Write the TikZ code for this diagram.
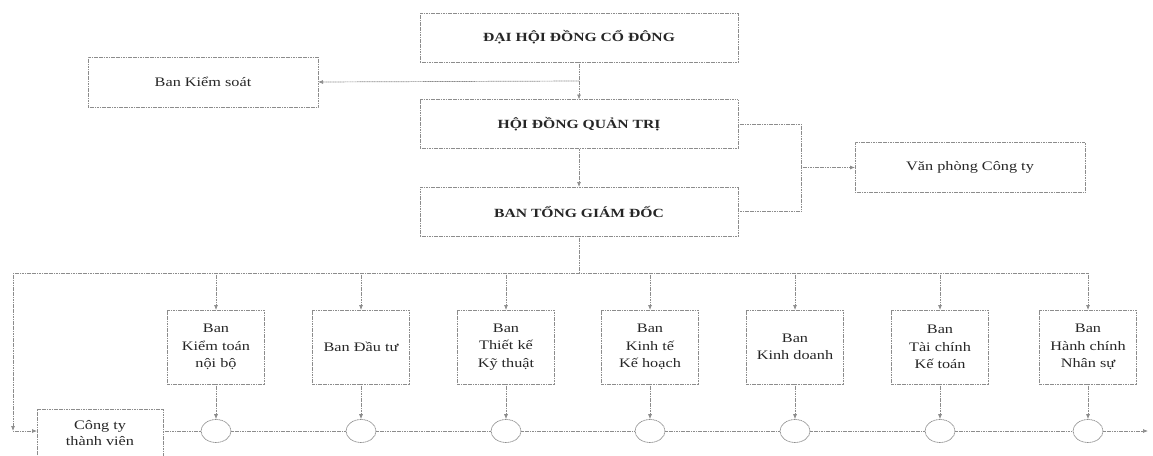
\documentclass[tikz,border=0pt]{standalone}
\usepackage{fontspec}
\setmainfont[FakeStretch=1.25]{Liberation Serif}
\usepackage{tikz}
\usetikzlibrary{arrows.meta,positioning,shapes.geometric}

\tikzset{
  org/.style={draw=black!45, dash pattern=on 1.2pt off 0.5pt, line width=0.7pt,
    inner sep=0pt, outer sep=0pt, align=center, text=black!85},
  headbox/.style={org, minimum width=318pt, minimum height=49pt,
    font=\fontsize{12.5}{15}\selectfont\bfseries},
  sidebox/.style={org, minimum width=230pt, minimum height=50pt,
    font=\fontsize{13}{16}\selectfont},
  dept/.style={org, minimum width=97pt, minimum height=74pt,
    font=\fontsize{13}{17.5}\selectfont},
  knot/.style={ellipse, draw=black!45, dash pattern=on 1.2pt off 0.5pt,
    line width=0.7pt, minimum width=30pt, minimum height=23pt, inner sep=0pt},
  link/.style={draw=black!45, line width=0.7pt, dash pattern=on 1.2pt off 0.5pt},
  arr/.style={link, -{Latex[length=5pt,width=4pt]}}
}

\begin{document}
\begin{tikzpicture}[x=1pt,y=-1pt]
        \clip (0,0) rectangle (1153,455);
        % Top of the company
        \node[headbox] (dhcd) at (579,37.5) {ĐẠI HỘI ĐỒNG CỔ ĐÔNG};
        \node[sidebox] (bks) at (203,82) {Ban Kiểm soát};
        \node[headbox] (hdqt) at (579,124) {HỘI ĐỒNG QUẢN TRỊ};
        \node[headbox] (btgd) at (579,211.5) {BAN TỔNG GIÁM ĐỐC};
        \node[sidebox] (vp) at (970,167.5) {Văn phòng Công ty};
        % Departments
        \node[dept] (d1) at (216,347) {Ban\\Kiểm toán\\nội bộ};
        \node[dept] (d2) at (361,347) {Ban Đầu tư};
        \node[dept] (d3) at (506,347) {Ban\\Thiết kế\\Kỹ thuật};
        \node[dept] (d4) at (650,347) {Ban\\Kinh tế\\Kế hoạch};
        \node[dept] (d5) at (795,347) {Ban\\Kinh doanh};
        \node[dept] (d6) at (940,347) {Ban\\Tài chính\\Kế toán};
        \node[dept] (d7) at (1088,347) {Ban\\Hành chính\\Nhân sự};
        \node[org, minimum width=126pt, minimum height=48pt,
          font=\fontsize{13}{16}\selectfont] (ctv) at (100,433) {Công ty\\thành viên};
        % Ellipses on the bottom line
        \node[knot] (e1) at (216,431) {};
        \node[knot] (e2) at (361,431) {};
        \node[knot] (e3) at (506,431) {};
        \node[knot] (e4) at (650,431) {};
        \node[knot] (e5) at (795,431) {};
        \node[knot] (e6) at (940,431) {};
        \node[knot] (e7) at (1088,431) {};
        % Helper points
        \coordinate (ks) at (579,81);
        \coordinate (br) at (801,167.5);
        \coordinate (bus) at (579,273);
        \coordinate (busL) at (13,273);
        \coordinate (busR) at (1088,273);
        \coordinate (corner) at (13,431);
        \coordinate (out) at (1148,431);
        % Upper links
        \draw[arr] (dhcd) -- (hdqt);
        \draw[arr] (ks) -- (bks.east);
        \draw[arr] (hdqt) -- (btgd);
        \draw[link] (hdqt.east) -| (br) |- (btgd.east);
        \draw[arr] (br) -- (vp.west);
        % Bus line
        \draw[link] (btgd.south) -- (bus);
        \draw[link] (busL) -- (busR);
        \draw[arr] (d1 |- bus) -- (d1);
        \draw[arr] (d2 |- bus) -- (d2);
        \draw[arr] (d3 |- bus) -- (d3);
        \draw[arr] (d4 |- bus) -- (d4);
        \draw[arr] (d5 |- bus) -- (d5);
        \draw[arr] (d6 |- bus) -- (d6);
        \draw[arr] (d7 |- bus) -- (d7);
        \draw[arr] (busL) -- (corner);
        \draw[arr] (corner) -- (ctv.west |- corner);
        % Departments down to the line
        \draw[arr] (d1) -- (e1);
        \draw[arr] (d2) -- (e2);
        \draw[arr] (d3) -- (e3);
        \draw[arr] (d4) -- (e4);
        \draw[arr] (d5) -- (e5);
        \draw[arr] (d6) -- (e6);
        \draw[arr] (d7) -- (e7);
        % Bottom line
        \draw[link] (ctv.east |- e1) -- (e1);
        \draw[link] (e1) -- (e2);
        \draw[link] (e2) -- (e3);
        \draw[link] (e3) -- (e4);
        \draw[link] (e4) -- (e5);
        \draw[link] (e5) -- (e6);
        \draw[link] (e6) -- (e7);
        \draw[arr] (e7) -- (out);
\end{tikzpicture}
\end{document}
